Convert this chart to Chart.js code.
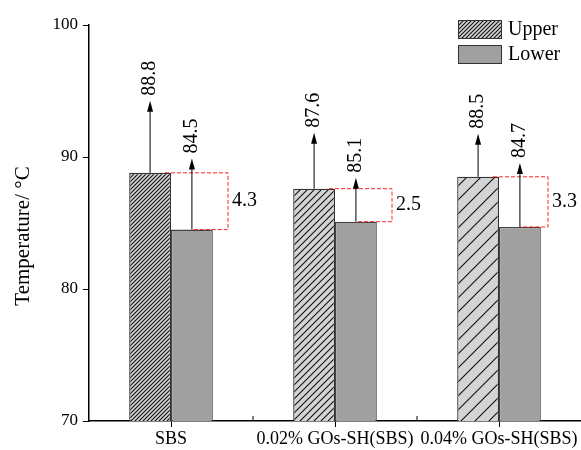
<!DOCTYPE html>
<html>
<head>
<meta charset="utf-8">
<script src="https://cdn.jsdelivr.net/npm/chart.js@4/dist/chart.umd.min.js"></script>
<style>
  html, body { margin: 0; padding: 0; background: #fff; }
  #wrap { width: 581px; height: 450px; }
</style>
</head>
<body>
<div id="wrap"><canvas id="barChart"></canvas></div>
<script>
// data
const categories = ['SBS', '0.02% GOs-SH(SBS)', '0.04% GOs-SH(SBS)'];
const upperTemp = [88.8, 87.6, 88.5];
const lowerTemp = [84.5, 85.1, 84.7];
const diffLabels = ['4.3', '2.5', '3.3'];
const yTicks = [70, 80, 90, 100];
const yTitle = 'Temperature/ °C';

// drawing styles (px)
const upperArrow = [72, 56, 43];
const lowerArrow = [71, 44, 64];
const boxWidth = [57, 57, 49];
const hatchGap = [4, 7, 14];
const serif = 'Liberation Serif';

function hatch(gap) {
    const c = document.createElement('canvas');
    c.width = gap;
    c.height = gap;
    const g = c.getContext('2d');
    g.fillStyle = '#d4d4d4';
    g.fillRect(0, 0, gap, gap);
    g.strokeStyle = '#111';
    g.lineWidth = 1.1;
    g.beginPath();
    g.moveTo(-1, gap + 1); g.lineTo(gap + 1, -1);
    g.moveTo(-1, 1); g.lineTo(1, -1);
    g.moveTo(gap - 1, gap + 1); g.lineTo(gap + 1, gap - 1);
    g.stroke();
    return g.createPattern(c, 'repeat');
}

function arrow(c, x, y0, len) {
    const tip = y0 - len;
    c.strokeStyle = '#000';
    c.fillStyle = '#000';
    c.lineWidth = 1;
    c.setLineDash([]);
    c.beginPath();
    c.moveTo(x, y0);
    c.lineTo(x, tip + 8);
    c.stroke();
    c.beginPath();
    c.moveTo(x, tip);
    c.lineTo(x - 3, tip + 11);
    c.lineTo(x + 3, tip + 11);
    c.closePath();
    c.fill();
    return tip;
}

function vLabel(c, text, x, y, size, align) {
    c.save();
    c.translate(x, y);
    c.rotate(-Math.PI / 2);
    c.font = size + 'px "' + serif + '"';
    c.fillStyle = '#000';
    c.textAlign = align;
    c.textBaseline = 'middle';
    c.fillText(text, 0, 0);
    c.restore();
}

const notes = {
    id: 'notes',
    afterDatasetsDraw(chart) {
        const c = chart.ctx;
        const up = chart.getDatasetMeta(0).data;
        const lo = chart.getDatasetMeta(1).data;
        const xs = chart.scales.x;
        c.save();
        categories.forEach((cat, i) => {
            const cx = xs.getPixelForValue(i);
            const right = cx + boxWidth[i];
            // red dashed difference box
            c.strokeStyle = 'rgba(255, 0, 0, 0.85)';
            c.lineWidth = 1;
            c.setLineDash([4, 2]);
            c.beginPath();
            c.moveTo(up[i].x + up[i].width / 2 - 6, up[i].y);
            c.lineTo(right, up[i].y);
            c.lineTo(right, lo[i].y);
            c.lineTo(lo[i].x, lo[i].y);
            c.stroke();
            c.font = '20px "' + serif + '"';
            c.fillStyle = '#000';
            c.textAlign = 'left';
            c.textBaseline = 'middle';
            c.fillText(diffLabels[i], right + 4, (up[i].y + lo[i].y) / 2);
            // value arrows
            let t = arrow(c, up[i].x, up[i].y, upperArrow[i]);
            vLabel(c, upperTemp[i].toFixed(1), up[i].x, t - 5, 20, 'left');
            t = arrow(c, lo[i].x, lo[i].y, lowerArrow[i]);
            vLabel(c, lowerTemp[i].toFixed(1), lo[i].x, t - 5, 20, 'left');
        });
        // small ticks between categories
        c.setLineDash([]);
        c.strokeStyle = '#000';
        c.lineWidth = 1;
        const base = chart.chartArea.bottom;
        for (let i = 0; i < categories.length - 1; i++) {
            const mx = (xs.getPixelForValue(i) + xs.getPixelForValue(i + 1)) / 2;
            c.beginPath();
            c.moveTo(mx, base);
            c.lineTo(mx, base - 5);
            c.stroke();
        }
        c.restore();
    },
    afterDraw(chart) {
        const c = chart.ctx;
        const ds = chart.data.datasets;
        c.save();
        // y axis title
        vLabel(c, yTitle, 23, 236, 21, 'center');
        // legend, top right inside the plot
        ds.forEach((d, i) => {
            const y = 20 + i * 25;
            c.fillStyle = i === 0 ? hatch(hatchGap[0]) : d.backgroundColor;
            c.fillRect(458, y, 44, 19);
            c.strokeStyle = '#333';
            c.lineWidth = 1;
            c.strokeRect(458.5, y + 0.5, 43, 18);
            c.font = '20px "' + serif + '"';
            c.fillStyle = '#000';
            c.textAlign = 'left';
            c.textBaseline = 'middle';
            c.fillText(d.label, 508, y + 10);
        });
        c.restore();
    }
};

new Chart(document.getElementById('barChart'), {
    type: 'bar',
    data: {
        labels: categories,
        datasets: [
            {
                label: 'Upper',
                data: upperTemp,
                backgroundColor: hatchGap.map(hatch),
                borderColor: '#333',
                borderWidth: 1.3
            },
            {
                label: 'Lower',
                data: lowerTemp,
                backgroundColor: '#a0a0a0',
                borderColor: '#444',
                borderWidth: 1.3
            }
        ]
    },
    options: {
        responsive: true,
        maintainAspectRatio: false,
        animation: false,
        categoryPercentage: 0.51,
        barPercentage: 1,
        layout: { padding: { top: 25, right: 0, left: 0, bottom: 0 } },
        plugins: {
            legend: { display: false },
            tooltip: { enabled: false }
        },
        scales: {
            x: {
                grid: { drawOnChartArea: false, offset: false, tickLength: 6, color: '#000' },
                border: { color: '#000', width: 1.5 },
                ticks: { font: { family: serif, size: 18 }, color: '#000', padding: 1, maxRotation: 0, autoSkip: false },
                afterFit: s => { s.height = 29; }
            },
            y: {
                min: 70,
                max: 100,
                afterBuildTicks: s => { s.ticks = yTicks.map(v => ({ value: v })); },
                grid: { drawOnChartArea: false, tickLength: 6, color: '#000' },
                border: { color: '#000', width: 1.5 },
                ticks: { font: { family: serif, size: 17 }, color: '#000', padding: 5 },
                afterFit: s => { s.width = 89; }
            }
        }
    },
    plugins: [notes]
});
</script>
</body>
</html>
